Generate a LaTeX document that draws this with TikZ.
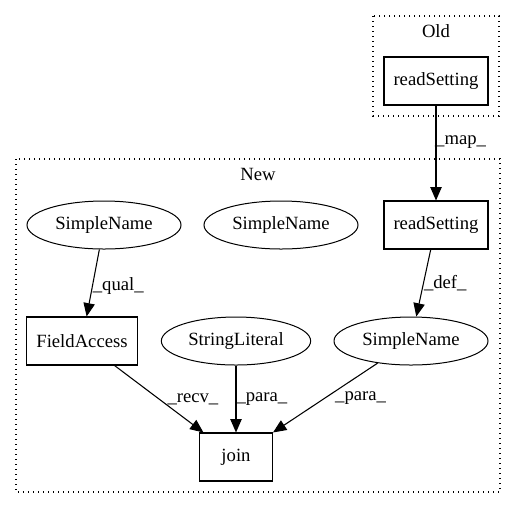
\documentclass[tikz,border=0pt]{standalone}
\usepackage{fontspec}
\setmainfont{Liberation Serif}
\usetikzlibrary{arrows.meta,shapes.geometric}
\begin{document}
\begin{tikzpicture}[
    x=0.75pt, y=-0.75pt,
    every node/.style={font=\fontsize{14}{16}\selectfont},
    box/.style={draw, line width=0.8pt, minimum height=36pt, inner sep=0pt},
    oval/.style={draw, ellipse, line width=0.75pt, minimum width=115.5pt, minimum height=36pt, inner sep=0pt},
    cluster/.style={draw, dash pattern=on 0.9pt off 2.85pt, line width=0.9pt},
    flow/.style={draw, line width=0.8pt, -{Triangle[length=10pt, width=8.5pt]}},
    lbl/.style={inner sep=0pt, anchor=west}
  ]
  \useasboundingbox (0,0) rectangle (516,508);
  % clusters
  \draw[cluster] (373,16) rectangle (499,116);
  \node (oldlabel) at (436,31) {Old};
  \draw[cluster] (16,159) rectangle (500,492);
  \node (newlabel) at (258,174) {New};
  % nodes
  \node[box, minimum width=78pt] (oldread) at (436,81) {readSetting};
  \node[box, minimum width=78pt] (newread) at (436,225) {readSetting};
  \node[oval] (namequal) at (104,225) {SimpleName};
  \node[oval] (namefree) at (281,225) {SimpleName};
  \node[box, minimum width=83pt] (field) at (82,341) {FieldAccess};
  \node[oval, minimum width=112pt] (literal) at (236,341) {StringLiteral};
  \node[oval] (namedef) at (411,341) {SimpleName};
  \node[box, minimum width=55pt] (join) at (236,457) {join};
  % edges
  \draw[flow] (oldread) -- node[lbl, pos=0.38, xshift=-1pt] {\_map\_} (newread);
  \draw[flow] (newread) -- node[lbl, pos=0.5] {\_def\_} (namedef);
  \draw[flow] (namequal) -- node[lbl, pos=0.55] {\_qual\_} (field);
  \draw[flow] (field) -- node[lbl, pos=0.5, xshift=6pt] {\_recv\_} (join);
  \draw[flow] (literal) -- node[lbl, pos=0.5] {\_para\_} (join);
  \draw[flow] (namedef) -- node[lbl, pos=0.5, xshift=7pt] {\_para\_} (join);
\end{tikzpicture}
\end{document}
